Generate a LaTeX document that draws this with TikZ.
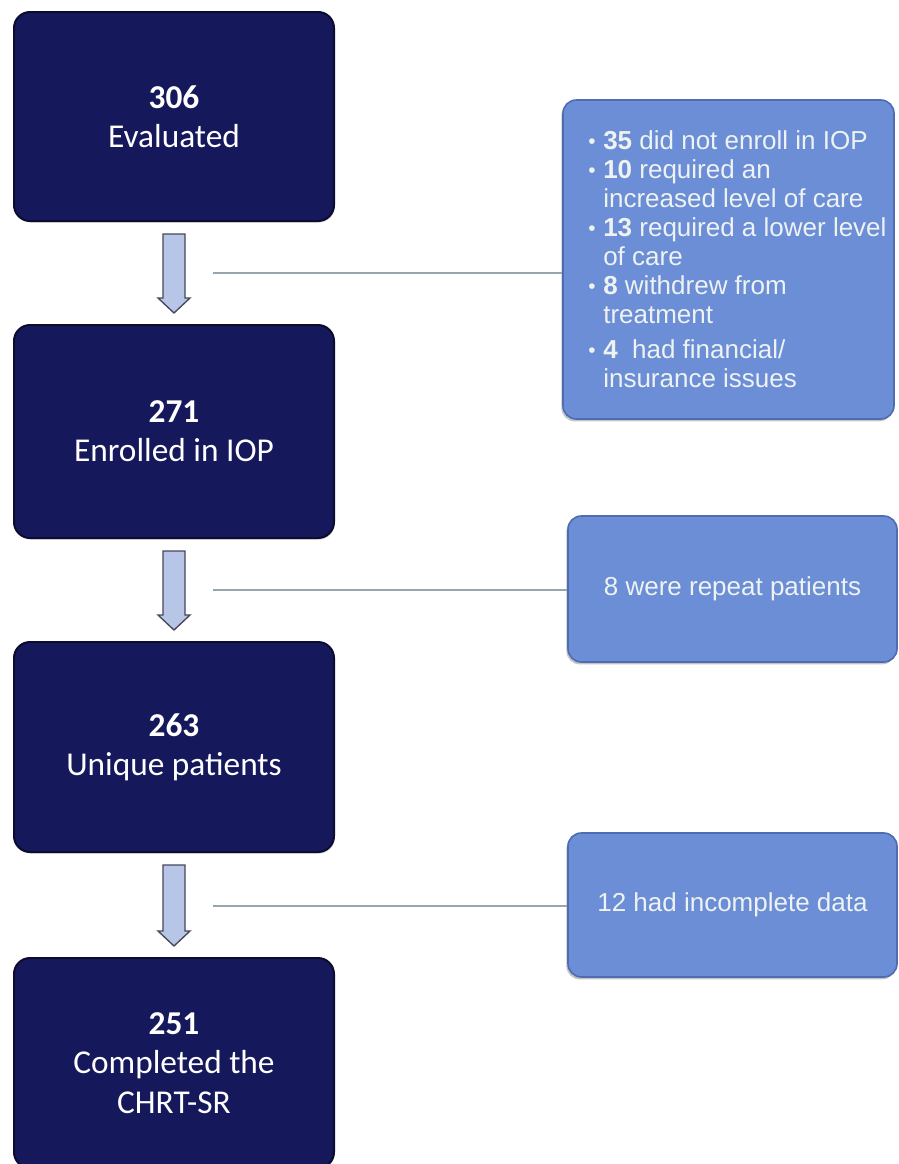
\documentclass[tikz,border=0pt]{standalone}
\usepackage{fontspec}
\setmainfont{Liberation Sans}
\newfontfamily\calibrifont{Carlito}
\usetikzlibrary{calc,shadows}
\definecolor{navy}{HTML}{16185C}
\definecolor{navyedge}{HTML}{0B0C30}
\definecolor{midblue}{HTML}{6B8ED7}
\definecolor{midedge}{HTML}{4E6CB2}
\definecolor{arrowfill}{HTML}{B7C6E7}
\definecolor{arrowedge}{HTML}{45475A}
\definecolor{linkcol}{HTML}{96A6B0}
\definecolor{lighttext}{HTML}{EEF3F1}
\tikzset{
  mainbox/.style={draw=navyedge, line width=1.5pt, fill=navy, rounded corners=12pt,
    minimum width=240pt, inner sep=0pt, align=center, text=white,
    font=\calibrifont\fontsize{25}{29.5}\selectfont,
    drop shadow={shadow xshift=0.6pt, shadow yshift=-1.2pt, opacity=0.35}},
  sidebox/.style={draw=midedge, line width=1.2pt, fill=midblue, rounded corners=10pt,
    inner sep=0pt, text=lighttext, font=\fontsize{19.5}{21.75}\selectfont,
    drop shadow={shadow xshift=-1.2pt, shadow yshift=-1.8pt, opacity=0.45}},
  sidetext/.style={inner sep=0pt, align=left, text=lighttext, font=\fontsize{19.5}{21.75}\selectfont},
  blockarrow/.style={draw=arrowedge, line width=1pt, fill=arrowfill, line join=miter},
  link/.style={draw=linkcol, line width=1.6pt}
}
\newcommand{\bul}{\makebox[11.25pt][l]{\raisebox{0.5pt}{\scalebox{0.8}{\textbullet}}}}
\newcommand{\cont}{\hspace*{11.25pt}}
\newcommand{\blockdown}[2]{%
  \path[blockarrow] ($(#1.south)+(-11,12)$) -- ($(#2.north)+(-11,-26)$) -- ($(#2.north)+(-16,-26)$)
    -- ($(#2.north)+(0,-11)$) -- ($(#2.north)+(16,-26)$) -- ($(#2.north)+(11,-26)$)
    -- ($(#1.south)+(11,12)$) -- cycle;}
\begin{document}
\begin{tikzpicture}[x=0.75pt, y=-0.75pt]
\useasboundingbox[fill=white] (0,0) rectangle (899,1164);
% main column
\node[mainbox, minimum height=156.75pt] (b1) at (174,116.5) {\textbf{306}\\Evaluated};
\node[mainbox, minimum height=159.75pt] (b2) at (174,431.5) {\textbf{271}\\Enrolled in IOP};
\node[mainbox, minimum height=157.5pt] (b3) at (174,747) {\textbf{263}\\Unique patients};
\node[mainbox, minimum height=157.5pt] (b4) at (174,1063) {\textbf{251}\\Completed the\\CHRT-SR};
% side boxes
\node[sidebox, minimum width=248.25pt, minimum height=239.25pt] (sa) at (728.5,259.5) {};
\node[sidetext, anchor=north west] (satxt) at (588,130) {%
\bul\textbf{35} did not enroll  in IOP\\
\bul\textbf{10} required an\\
\cont increased level  of care\\
\bul\textbf{13} required a lower  level\\
\cont of care\\
\bul\textbf{8} withdrew  from\\
\cont treatment\\[4.5pt]
\bul\textbf{4}\ \ had financial/\\
\cont insurance  issues};
\node[sidebox, minimum width=246.75pt, minimum height=109.5pt] (sb) at (732.5,589) {8 were repeat patients};
\node[sidebox, minimum width=246.75pt, minimum height=108pt] (sc) at (732.5,905) {12 had incomplete data};
% block arrows
\blockdown{b1}{b2}
\blockdown{b2}{b3}
\blockdown{b3}{b4}
% links
\coordinate (l1) at (213,273);
\coordinate (l2) at (213,590);
\coordinate (l3) at (213,906);
\draw[link] (l1) -- (l1 -| sa.west);
\draw[link] (l2) -- (l2 -| sb.west);
\draw[link] (l3) -- (l3 -| sc.west);
\end{tikzpicture}
\end{document}
